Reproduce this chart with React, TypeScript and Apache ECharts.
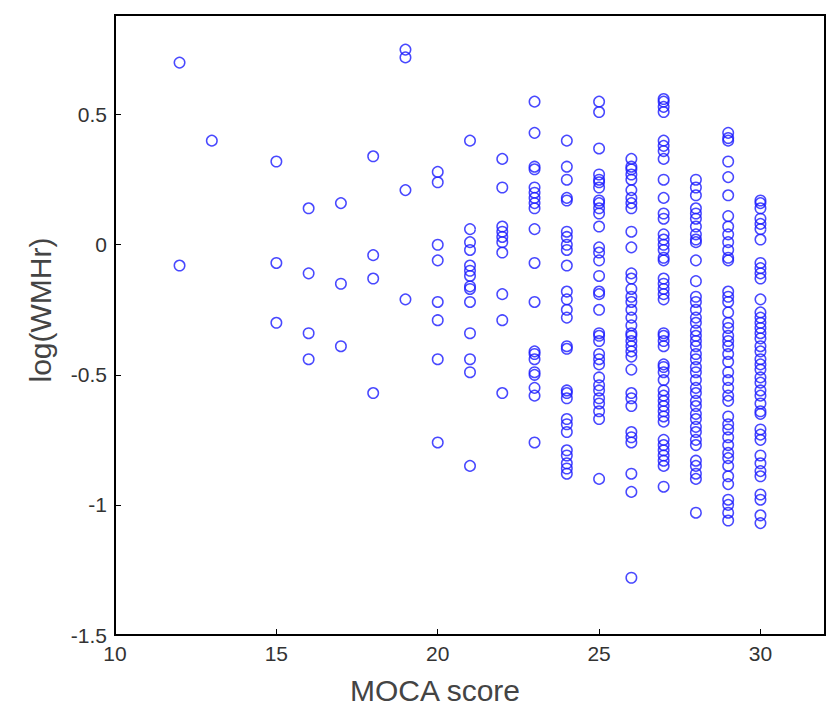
import React, { useEffect, useRef } from "react";
import * as echarts from "echarts";

const mocaScores = [12, 13, 15, 16, 17, 18, 19, 20, 21, 22, 23, 24, 25, 26, 27, 28, 29, 30];

const s12 = [0.70, -0.08];
const s13 = [0.40];
const s15 = [0.32, -0.07, -0.30];
const s16 = [0.14, -0.11, -0.34, -0.44];
const s17 = [0.16, -0.15, -0.39];
const s18 = [0.34, -0.04, -0.13, -0.57];
const s19 = [0.75, 0.72, 0.21, -0.21];
const s20 = [0.28, 0.24, 0.0, -0.06, -0.22, -0.29, -0.44, -0.76];
const s21 = [0.40, 0.06, 0.01, -0.02, -0.08, -0.10, -0.12, -0.16, -0.17, -0.22, -0.34, -0.44, -0.49, -0.85];
const s22 = [0.33, 0.22, 0.07, 0.05, 0.03, 0.01, -0.03, -0.19, -0.29, -0.57];
const s23 = [0.55, 0.43, 0.30, 0.29, 0.22, 0.20, 0.18, 0.16, 0.14, 0.06, -0.07, -0.22, -0.41, -0.42, -0.44, -0.49, -0.50, -0.55, -0.58, -0.76];
const s24 = [0.40, 0.30, 0.25, 0.18, 0.17, 0.05, 0.03, 0.0, -0.02, -0.08, -0.18, -0.21, -0.25, -0.28, -0.39, -0.40, -0.56, -0.57, -0.59, -0.67, -0.69, -0.72, -0.79, -0.81, -0.84, -0.86, -0.88];
const s25 = [0.55, 0.51, 0.37, 0.27, 0.25, 0.24, 0.22, 0.17, 0.16, 0.14, 0.12, 0.07, -0.01, -0.03, -0.06, -0.12, -0.18, -0.19, -0.25, -0.34, -0.35, -0.37, -0.42, -0.44, -0.46, -0.51, -0.54, -0.56, -0.59, -0.61, -0.64, -0.67, -0.90];
const s26 = [0.33, 0.30, 0.29, 0.27, 0.25, 0.21, 0.18, 0.16, 0.14, 0.05, -0.01, -0.11, -0.13, -0.17, -0.20, -0.22, -0.25, -0.28, -0.31, -0.34, -0.35, -0.37, -0.39, -0.41, -0.43, -0.48, -0.57, -0.59, -0.62, -0.72, -0.74, -0.76, -0.88, -0.95, -1.28];
const s27 = [0.56, 0.55, 0.53, 0.51, 0.40, 0.38, 0.36, 0.33, 0.25, 0.18, 0.12, 0.10, 0.04, 0.02, 0.0, -0.02, -0.05, -0.06, -0.13, -0.15, -0.17, -0.19, -0.21, -0.34, -0.35, -0.37, -0.39, -0.46, -0.47, -0.49, -0.52, -0.56, -0.58, -0.60, -0.62, -0.64, -0.66, -0.68, -0.75, -0.77, -0.79, -0.81, -0.83, -0.85, -0.93];
const s28 = [0.25, 0.22, 0.19, 0.14, 0.12, 0.10, 0.07, 0.04, 0.02, 0.01, -0.06, -0.14, -0.20, -0.22, -0.25, -0.28, -0.30, -0.33, -0.35, -0.37, -0.39, -0.42, -0.44, -0.47, -0.49, -0.52, -0.55, -0.57, -0.60, -0.62, -0.65, -0.67, -0.70, -0.72, -0.75, -0.77, -0.83, -0.85, -0.88, -0.90, -1.03];
const s29 = [0.43, 0.41, 0.40, 0.32, 0.26, 0.19, 0.11, 0.07, 0.04, 0.01, -0.02, -0.05, -0.06, -0.18, -0.20, -0.22, -0.26, -0.30, -0.32, -0.35, -0.37, -0.39, -0.42, -0.45, -0.49, -0.52, -0.55, -0.58, -0.60, -0.66, -0.69, -0.71, -0.74, -0.77, -0.80, -0.82, -0.85, -0.89, -0.92, -0.98, -1.00, -1.03, -1.06];
const s30 = [0.17, 0.16, 0.14, 0.10, 0.08, 0.06, 0.02, -0.07, -0.09, -0.11, -0.13, -0.21, -0.26, -0.28, -0.30, -0.32, -0.34, -0.36, -0.39, -0.41, -0.44, -0.46, -0.48, -0.51, -0.53, -0.56, -0.58, -0.61, -0.64, -0.65, -0.71, -0.73, -0.75, -0.81, -0.84, -0.87, -0.89, -0.96, -0.98, -1.04, -1.07];

const logWMHrByScore = [s12, s13, s15, s16, s17, s18, s19, s20, s21, s22, s23, s24, s25, s26, s27, s28, s29, s30];

const xTickLabels = ["10", "15", "20", "25", "30"];
const yTickLabels = ["-1.5", "-1", "-0.5", "0", "0.5"];

export default function App() {
  const ref = useRef<HTMLDivElement>(null);

  useEffect(() => {
    if (!ref.current) return;
    const chart = echarts.init(ref.current, null, { renderer: "svg" });
    const points: number[][] = [];
    mocaScores.forEach((s, i) => {
      logWMHrByScore[i].forEach((v) => points.push([s, v]));
    });
    const fmt = (labels: string[]) => (v: number) => {
      const t = String(Math.round(v * 100) / 100);
      return labels.includes(t) ? t : "";
    };
    const font = "'Liberation Sans', Arial, sans-serif";
    chart.setOption({
      animation: false,
      grid: {
        left: 115,
        top: 15,
        right: 4,
        bottom: 71,
        show: true,
        borderColor: "#000",
        borderWidth: 2,
        backgroundColor: "#fff",
      },
      xAxis: {
        type: "value",
        min: 10,
        max: 32,
        interval: 5,
        splitLine: { show: false },
        axisLine: { show: true, onZero: false, lineStyle: { color: "#000", width: 2 } },
        axisTick: { show: true, inside: true, length: 6, lineStyle: { color: "#000", width: 1 } },
        axisLabel: {
          formatter: fmt(xTickLabels),
          color: "#333",
          fontSize: 21,
          fontFamily: font,
          margin: 8,
        },
      },
      yAxis: {
        type: "value",
        min: -1.5,
        max: 0.883,
        interval: 0.5,
        splitLine: { show: false },
        axisLine: { show: true, onZero: false, lineStyle: { color: "#000", width: 2 } },
        axisTick: { show: true, inside: true, length: 6, lineStyle: { color: "#000", width: 1 } },
        axisLabel: {
          formatter: fmt(yTickLabels),
          color: "#333",
          fontSize: 21,
          fontFamily: font,
          margin: 8,
        },
      },
      graphic: [
        {
          type: "text",
          x: 435,
          y: 690,
          style: {
            text: "MOCA score",
            fill: "#444",
            fontSize: 30,
            fontFamily: font,
            align: "center",
            verticalAlign: "middle",
          },
        },
        {
          type: "text",
          x: 40,
          y: 310,
          rotation: Math.PI / 2,
          style: {
            text: "log(WMHr)",
            fill: "#444",
            fontSize: 30,
            fontFamily: font,
            align: "center",
            verticalAlign: "middle",
          },
        },
      ],
      series: [
        {
          type: "scatter",
          data: points,
          symbol: "circle",
          symbolSize: 10.5,
          itemStyle: {
            color: "rgba(0,0,0,0)",
            borderColor: "#1a1aff",
            borderWidth: 1.5,
          },
          emphasis: { disabled: true },
        },
      ],
    });
    return () => chart.dispose();
  }, []);

  return <div ref={ref} style={{ width: 829, height: 706, position: "absolute", left: 0, top: 0 }} />;
}
